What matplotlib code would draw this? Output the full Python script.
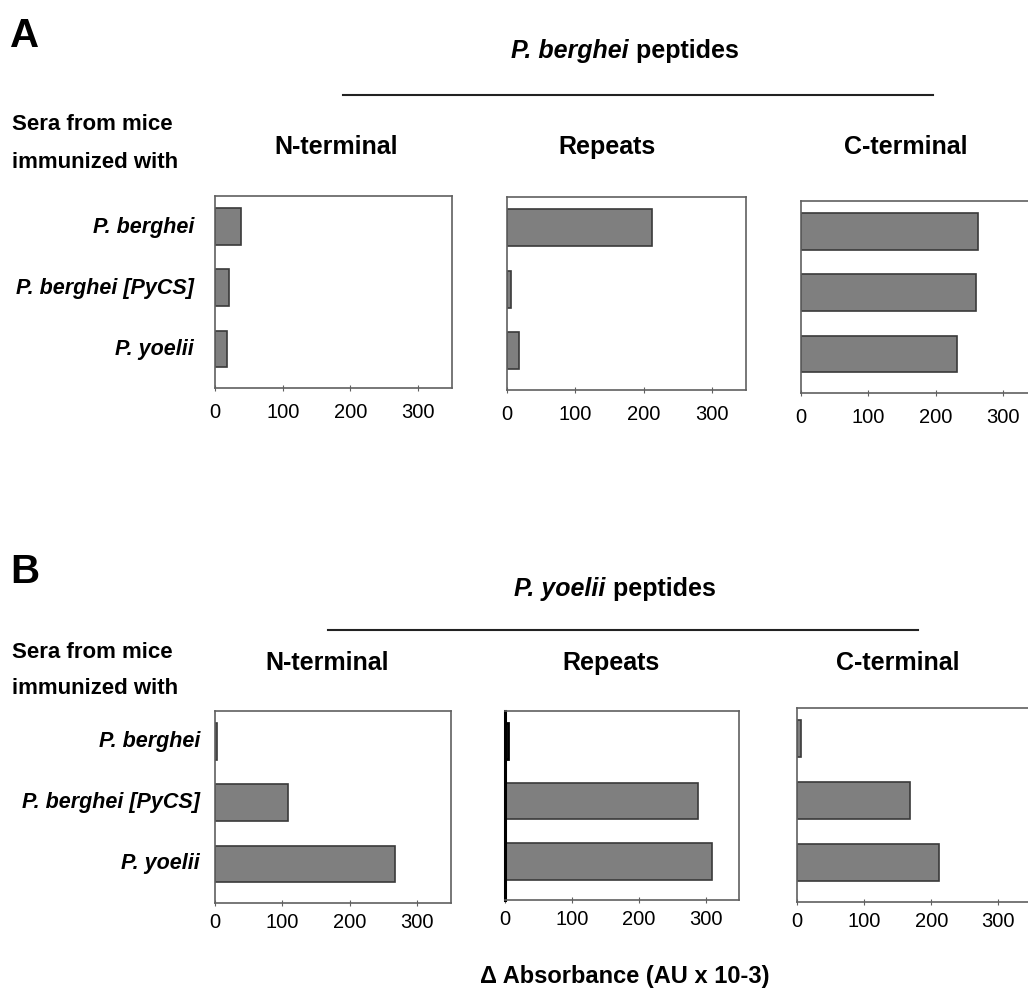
import numpy as np
import matplotlib
matplotlib.use('Agg')
import matplotlib.pyplot as plt

plt.rcParams['font.family'] = ['Liberation Sans', 'DejaVu Sans']

# sera (rows) and peptide regions (columns)
sera = ['P. berghei', 'P. berghei [PyCS]', 'P. yoelii']
regions = ['N-terminal', 'Repeats', 'C-terminal']
ticks = [0, 100, 200, 300]

# delta absorbance (AU x 10-3)
pb_nterm = [38, 20, 17]
pb_repeats = [212, 6, 17]
pb_cterm = [262, 260, 231]
py_nterm = [3, 109, 267]
py_repeats = [4, 289, 309]
py_cterm = [6, 169, 211]

W, H = 1028, 996
fig = plt.figure(figsize=(W / 100, H / 100), dpi=100)

BAR_FC = '#7f7f7f'
BAR_EC = '#3a3a3a'
SPINE = '#606060'


def fx(x):
    return x / W


def fy(y):
    return 1 - y / H


def add_panel(left, right, top, bottom, values, thick_left=False, pad=8):
    ax = fig.add_axes([fx(left), fy(bottom), (right - left) / W, (bottom - top) / H])
    ypos = np.arange(len(sera))[::-1]
    bars = ax.barh(ypos, values, height=0.6, color=BAR_FC, edgecolor=BAR_EC, linewidth=1.2)
    ax.set_xlim(0, 350)
    ax.set_ylim(-0.64, 2.5)
    ax.set_yticks([])
    ax.set_xticks(ticks)
    ax.set_xticklabels([str(t) for t in ticks], fontsize=14.5)
    ax.tick_params(axis='x', direction='inout', length=5, width=0.8, color=SPINE, pad=pad)
    for s in ax.spines.values():
        s.set_color(SPINE)
        s.set_linewidth(1.2)
    if thick_left:
        ax.spines['left'].set_color('black')
        ax.spines['left'].set_linewidth(2.2)
        bars[0].set_edgecolor('black')
        bars[0].set_linewidth(2)
    return ax


def mixed_title(xc, y, italic_part, rest, size=18):
    r = fig.canvas.get_renderer()
    t1 = fig.text(0, fy(y), italic_part, fontsize=size, fontweight='bold',
                  fontstyle='italic', va='center', ha='left')
    t2 = fig.text(0, fy(y), rest, fontsize=size, fontweight='bold', va='center', ha='left')
    w1 = t1.get_window_extent(r).width
    w2 = t2.get_window_extent(r).width
    x0 = xc - (w1 + w2) / 2
    t1.set_x(fx(x0))
    t2.set_x(fx(x0 + w1))


# ---- panel A: P. berghei peptides ----
add_panel(215, 452, 196, 388, pb_nterm)
add_panel(507, 746, 197, 390, pb_repeats)
add_panel(801, 1037, 201, 393, pb_cterm)

# ---- panel B: P. yoelii peptides ----
add_panel(215, 451, 711, 903, py_nterm, pad=5)
add_panel(505, 739, 711, 900, py_repeats, thick_left=True, pad=5)
add_panel(797, 1032, 708, 902, py_cterm, pad=5)

fig.canvas.draw()

# panel letters
fig.text(fx(10), fy(36), 'A', fontsize=29, fontweight='bold', va='center')
fig.text(fx(10), fy(572), 'B', fontsize=29, fontweight='bold', va='center')

# group headers with rule
mixed_title(625, 51, 'P. berghei', ' peptides')
fig.add_artist(plt.Line2D([fx(343), fx(933)], [fy(95), fy(95)], color='#222222', lw=1.5))
mixed_title(615, 589, 'P. yoelii', ' peptides')
fig.add_artist(plt.Line2D([fx(328), fx(918)], [fy(630), fy(630)], color='#222222', lw=1.5))

# region titles
for xc, name in zip([336, 607, 906], regions):
    fig.text(fx(xc), fy(147), name, fontsize=18, fontweight='bold', ha='center', va='center')
for xc, name in zip([327, 611, 898], regions):
    fig.text(fx(xc), fy(663), name, fontsize=18, fontweight='bold', ha='center', va='center')

# row header
fig.text(fx(12), fy(125), 'Sera from mice', fontsize=16, fontweight='bold', va='center')
fig.text(fx(12), fy(163), 'immunized with', fontsize=16, fontweight='bold', va='center')
fig.text(fx(12), fy(652), 'Sera from mice', fontsize=16, fontweight='bold', va='center')
fig.text(fx(12), fy(688), 'immunized with', fontsize=16, fontweight='bold', va='center')

# serum labels
for yc, name in zip([228, 288, 350], sera):
    fig.text(fx(194), fy(yc), name, fontsize=15.5, fontweight='bold',
             fontstyle='italic', ha='right', va='center')
for yc, name in zip([741, 802, 863], sera):
    fig.text(fx(200), fy(yc), name, fontsize=15.5, fontweight='bold',
             fontstyle='italic', ha='right', va='center')

fig.text(fx(625), fy(976), '\u0394 Absorbance (AU x 10-3)', fontsize=17, fontweight='bold',
         ha='center', va='center')

fig.savefig('out.png', dpi=100)
